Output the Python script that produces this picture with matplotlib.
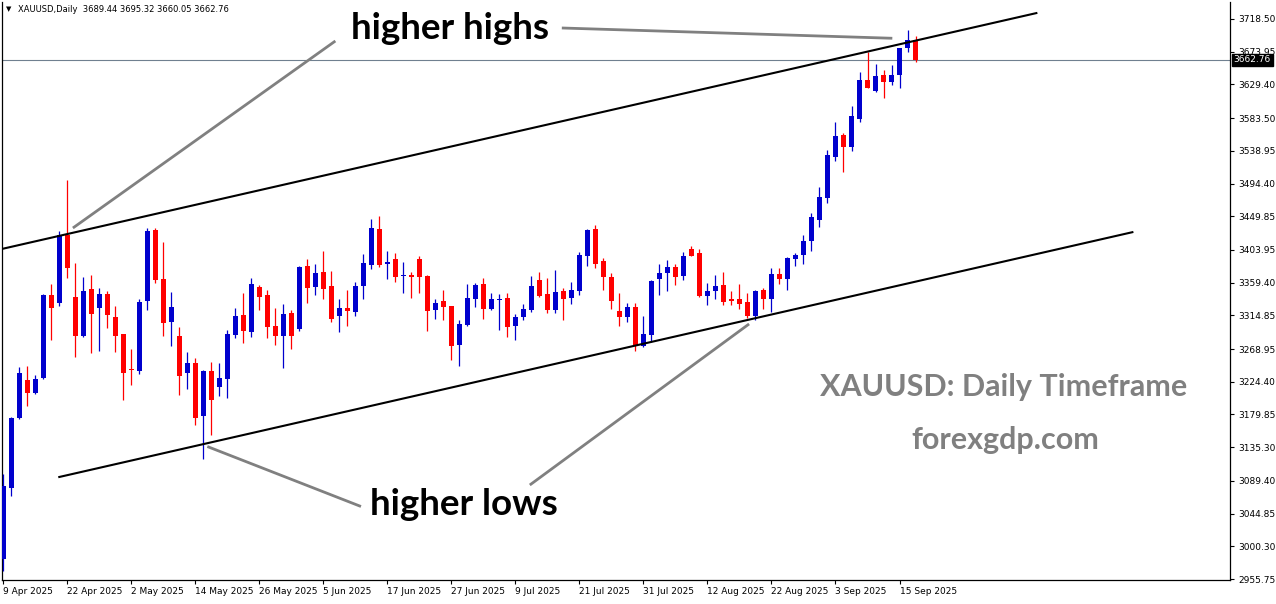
import matplotlib.pyplot as plt
import numpy as np

# daily candles, 9 Apr 2025 .. 17 Sep 2025 (index = bar number)
opens = [2982.6, 3080.1, 3174.6, 3226.8, 3209.1, 3229.9, 3342.6, 3332.1, 3424.3, 3339.8,
         3287.1, 3350.7, 3325.3, 3343.9, 3312.6, 3289.4, 3240.4, 3239.0, 3334.8, 3431.1,
         3364.4, 3306.2, 3286.7, 3236.7, 3249.9, 3178.2, 3239.0, 3217.7, 3228.6, 3288.5,
         3315.4, 3292.6, 3353.5, 3342.6, 3300.3, 3287.1, 3318.1, 3296.7, 3382.1, 3353.9,
         3373.9, 3354.8, 3314.4, 3324.9, 3319.8, 3355.2, 3383.8, 3432.4, 3385.2, 3391.6,
         3368.8, 3369.8, 3391.6, 3368.4, 3322.5, 3334.4, 3327.6, 3274.9, 3302.1, 3337.5,
         3357.5, 3323.9, 3335.3, 3338.5, 3300.8, 3313.0, 3322.5, 3363.0, 3343.9, 3322.5,
         3348.0, 3338.9, 3348.4, 3396.1, 3432.4, 3388.9, 3367.1, 3320.8, 3313.0, 3326.2,
         3273.5, 3288.5, 3364.8, 3373.0, 3380.7, 3368.4, 3405.2, 3399.8, 3341.2, 3348.0,
         3356.2, 3337.1, 3337.1, 3333.0, 3314.0, 3349.4, 3337.1, 3371.2, 3364.4, 3391.6,
         3397.0, 3416.5, 3445.1, 3475.1, 3530.9, 3560.5, 3544.5, 3582.7, 3635.4, 3620.4,
         3642.2, 3632.7, 3642.6, 3679.0, 3689.44]
highs = [3098.8, 3176.8, 3244.5, 3245.9, 3234.0, 3343.9, 3357.5, 3429.7, 3499.2, 3386.2,
         3367.1, 3369.8, 3352.1, 3348.0, 3327.6, 3289.4, 3269.0, 3337.1, 3433.8, 3433.8,
         3414.8, 3346.6, 3299.0, 3264.9, 3256.8, 3240.4, 3251.3, 3249.9, 3294.9, 3324.9,
         3345.3, 3365.7, 3356.2, 3349.4, 3324.9, 3330.3, 3322.1, 3382.1, 3391.6, 3384.8,
         3402.5, 3375.2, 3337.1, 3349.4, 3360.3, 3398.4, 3446.1, 3450.2, 3402.5, 3399.8,
         3387.5, 3373.9, 3395.7, 3369.8, 3337.1, 3349.4, 3327.6, 3308.5, 3357.5, 3358.9,
         3365.7, 3345.3, 3343.9, 3345.3, 3316.7, 3330.3, 3368.4, 3373.9, 3365.7, 3376.6,
         3352.1, 3360.3, 3401.1, 3432.4, 3437.9, 3393.0, 3372.5, 3345.3, 3332.1, 3332.1,
         3314.0, 3363.0, 3384.8, 3390.2, 3384.8, 3401.1, 3409.3, 3405.2, 3358.9, 3369.8,
         3373.9, 3348.0, 3357.5, 3345.3, 3349.4, 3352.1, 3379.4, 3379.4, 3394.3, 3399.8,
         3423.6, 3454.6, 3489.6, 3540.0, 3578.6, 3563.2, 3600.0, 3646.3, 3673.9, 3657.2,
         3649.0, 3655.8, 3679.0, 3703.5, 3695.32]
lows = [2966.0, 3068.8, 3173.3, 3191.4, 3207.7, 3228.6, 3281.3, 3327.6, 3366.1, 3258.5,
        3285.8, 3264.0, 3266.7, 3298.0, 3265.3, 3200.0, 3220.4, 3235.4, 3322.5, 3359.3,
        3287.1, 3273.5, 3206.8, 3214.5, 3165.9, 3119.6, 3152.3, 3205.4, 3202.7, 3284.4,
        3277.6, 3285.8, 3322.1, 3284.4, 3274.5, 3243.5, 3269.4, 3293.9, 3332.1, 3343.0,
        3337.5, 3306.2, 3292.6, 3300.8, 3314.4, 3337.5, 3378.4, 3381.1, 3364.8, 3360.7,
        3345.7, 3338.9, 3345.7, 3293.9, 3310.3, 3308.9, 3254.5, 3246.3, 3300.8, 3326.6,
        3310.3, 3322.5, 3295.3, 3285.8, 3281.7, 3308.9, 3319.8, 3339.8, 3318.5, 3318.5,
        3308.9, 3330.7, 3343.0, 3382.5, 3379.8, 3349.8, 3323.9, 3300.8, 3306.2, 3266.7,
        3272.2, 3279.0, 3343.0, 3348.4, 3356.2, 3363.0, 3395.7, 3339.8, 3329.0, 3337.1,
        3329.0, 3329.0, 3323.5, 3311.2, 3308.5, 3323.5, 3319.4, 3357.5, 3349.4, 3382.1,
        3384.1, 3402.9, 3435.6, 3468.3, 3525.4, 3510.5, 3539.1, 3578.6, 3624.9, 3619.0,
        3611.3, 3628.6, 3624.5, 3673.5, 3660.05]
closes = [3082.4, 3175.4, 3236.3, 3209.5, 3228.2, 3342.6, 3325.3, 3424.3, 3379.8, 3287.1,
          3348.0, 3317.1, 3343.9, 3315.7, 3287.1, 3236.7, 3240.0, 3333.0, 3429.7, 3363.4,
          3304.8, 3326.2, 3232.6, 3249.9, 3175.4, 3239.0, 3200.0, 3229.5, 3289.4, 3314.0,
          3293.9, 3357.5, 3340.2, 3299.4, 3287.1, 3316.7, 3287.1, 3380.7, 3352.5, 3372.5,
          3351.2, 3310.3, 3324.9, 3321.2, 3354.8, 3386.2, 3433.8, 3383.8, 3387.5, 3367.5,
          3369.8, 3367.5, 3367.5, 3321.2, 3331.7, 3326.6, 3273.5, 3303.1, 3338.5, 3356.2,
          3323.9, 3337.1, 3335.7, 3299.4, 3312.6, 3323.5, 3354.8, 3341.2, 3322.5, 3346.6,
          3337.5, 3349.4, 3397.0, 3431.1, 3385.2, 3367.5, 3334.8, 3313.0, 3326.2, 3274.9,
          3289.4, 3361.6, 3372.5, 3380.7, 3367.5, 3395.7, 3395.7, 3341.2, 3348.0, 3354.8,
          3333.0, 3334.4, 3330.3, 3314.0, 3348.0, 3337.1, 3371.2, 3364.4, 3393.0, 3397.0,
          3416.1, 3448.8, 3476.0, 3533.2, 3559.1, 3544.5, 3586.4, 3635.4, 3624.9, 3640.8,
          3633.1, 3642.2, 3679.0, 3689.9, 3662.76]

date_ticks = [0, 8, 16, 24, 32, 40, 48, 56, 64, 72, 80, 88, 96, 104, 112]
date_labels = ["9 Apr 2025", "22 Apr 2025", "2 May 2025", "14 May 2025", "26 May 2025",
               "5 Jun 2025", "17 Jun 2025", "27 Jun 2025", "9 Jul 2025", "21 Jul 2025",
               "31 Jul 2025", "12 Aug 2025", "22 Aug 2025", "3 Sep 2025", "15 Sep 2025"]
price_ticks = [3718.50, 3673.95, 3629.40, 3583.50, 3538.95, 3494.40, 3449.85, 3403.95,
               3359.40, 3314.85, 3268.95, 3224.40, 3179.85, 3135.30, 3089.40, 3044.85,
               3000.30, 2955.75]

# channel lines (bar index, price)
upper_line = ([-0.2, 129.1], [3405.2, 3726.5])
lower_line = ([7.0, 141.1], [3094.7, 3428.1])
# pointer lines for the labels
pointers = [([8.7, 41.5], [3433.8, 3688.5]),
            ([69.8, 111.1], [3706.2, 3692.2]),
            ([25.5, 44.7], [3136.2, 3054.5]),
            ([93.2, 65.8], [3303.1, 3083.8])]
last_price = 3662.76

W, H = 1276, 604
fig = plt.figure(figsize=(W / 100, H / 100), dpi=100)
fig.patch.set_facecolor("white")
ax = fig.add_axes([2 / W, 24 / H, 1228 / W, 578 / H])

x = np.arange(len(opens))
o = np.array(opens)
c = np.array(closes)
up = c >= o
cols = np.where(up, "#0000CD", "#FF0000")

ax.vlines(x, lows, highs, colors=cols, linewidth=0.9, zorder=3)
body_h = np.maximum(np.abs(c - o), 1.4)
ax.bar(x, body_h, bottom=np.minimum(o, c), width=0.62, color=cols, linewidth=0, zorder=4)

ax.axhline(last_price, color="#708090", linewidth=0.8, zorder=2)

ax.plot(*upper_line, color="black", linewidth=1.5, zorder=5)
ax.plot(*lower_line, color="black", linewidth=1.5, zorder=5)
for px_, py_ in pointers:
    ax.plot(px_, py_, color="#808080", linewidth=2, zorder=5, clip_on=False,
            solid_capstyle="butt")

ax.set_xlim(-0.16, 153.3)
ax.set_ylim(2954.4, 3741.6)

ax.set_xticks(date_ticks)
ax.set_xticklabels(date_labels, fontsize=6.5, ha="left")
ax.yaxis.tick_right()
ax.set_yticks(price_ticks)
ax.set_yticklabels(["%.2f" % v for v in price_ticks], fontsize=6.5)
ax.tick_params(axis="both", direction="out", length=3, width=0.8, colors="black")
ax.tick_params(axis="x", pad=2)
ax.tick_params(axis="y", pad=3)

ax.spines["top"].set_visible(False)
for s in ["left", "right", "bottom"]:
    ax.spines[s].set_linewidth(0.9)

# current price box
ax.text(1.003, last_price, "%.2f" % last_price, transform=ax.get_yaxis_transform(),
        fontsize=6.5, color="white", va="center", ha="left", zorder=10, clip_on=False,
        bbox=dict(boxstyle="square,pad=0.2", facecolor="black", edgecolor="black"))

def fp(px, py):
    return px / W, 1 - py / H

fig.text(*fp(6, 9), "\u25bc", fontsize=5, va="center", ha="left")
fig.text(*fp(18, 9), "XAUUSD,Daily  3689.44 3695.32 3660.05 3662.76",
         fontsize=6, va="center", ha="left")

big = dict(family=["Lato", "DejaVu Sans"], fontweight="bold")
fig.text(*fp(450, 39), "higher highs", fontsize=26.5, ha="center", va="baseline",
         color="black", **big)
fig.text(*fp(464, 515), "higher lows", fontsize=26.5, ha="center", va="baseline",
         color="black", **big)
fig.text(*fp(1004, 396), "XAUUSD: Daily Timeframe", fontsize=22, ha="center",
         va="baseline", color="#808080", **big)
fig.text(*fp(1005, 449), "forexgdp.com", fontsize=22, ha="center", va="baseline",
         color="#808080", **big)

fig.savefig("out.png", dpi=100, facecolor="white")
